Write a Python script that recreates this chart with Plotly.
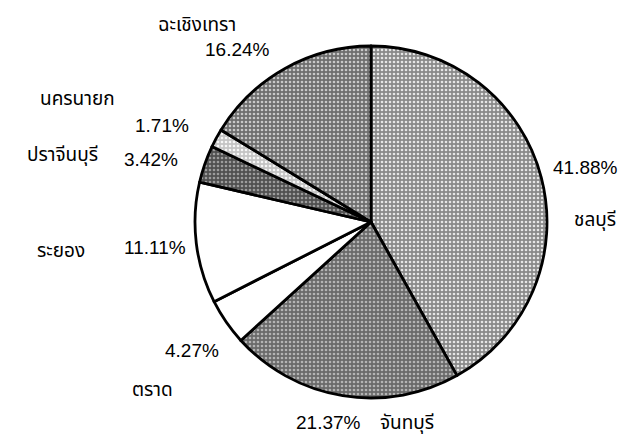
import plotly.graph_objects as go

provinces = ["ชลบุรี", "จันทบุรี", "ตราด", "ระยอง", "ปราจีนบุรี", "นครนายก", "ฉะเชิงเทรา"]
shares = [41.88, 21.37, 4.27, 11.11, 3.42, 1.71, 16.24]
pct_labels = ["41.88%", "21.37%", "4.27%", "11.11%", "3.42%", "1.71%", "16.24%"]

fill_bg = ["#8a8a8a", "#6a6a6a", "#ffffff", "#ffffff", "#505050", "#c4c4c4", "#6e6e6e"]
fill_fg = ["#e6e6e6", "#b4b4b4", "#ffffff", "#ffffff", "#9c9c9c", "#f6f6f6", "#c8c8c8"]
shapes_pat = [".", ".", "", "", ".", ".", "."]

W, H = 623, 446
cx, cy, r = 371, 222, 176

fig = go.Figure(go.Pie(
    labels=provinces,
    values=shares,
    sort=False,
    direction="clockwise",
    rotation=0,
    textinfo="none",
    hoverinfo="label+percent",
    marker=dict(
        colors=fill_bg,
        line=dict(color="#000000", width=2.8),
        pattern=dict(shape=shapes_pat, fgcolor=fill_fg, bgcolor=fill_bg, size=4, solidity=0.35),
    ),
    domain=dict(x=[(cx - r) / W, (cx + r) / W], y=[(H - cy - r) / H, (H - cy + r) / H]),
    showlegend=False,
))

thai_font = dict(family="Noto Sans Thai, Loma, Garuda, Tlwg Typo, sans-serif", size=19, color="#000000")
num_font = dict(family="Liberation Sans, Arial, sans-serif", size=19, color="#000000")

# label positions in pixels (x center, y center)
name_pos = [(595, 220), (407, 423), (152, 390), (61, 252), (62, 155), (77, 100), (197, 25)]
pct_pos = [(585, 167), (328, 422), (192, 350), (155, 247), (151, 160), (162, 125), (237, 50)]

annotations = []
for name, (x, y) in zip(provinces, name_pos):
    annotations.append(dict(text=name, x=x / W, y=1 - y / H, xref="paper", yref="paper",
                            showarrow=False, font=thai_font, xanchor="center", yanchor="middle"))
for p, (x, y) in zip(pct_labels, pct_pos):
    annotations.append(dict(text=p, x=x / W, y=1 - y / H, xref="paper", yref="paper",
                            showarrow=False, font=num_font, xanchor="center", yanchor="middle"))

fig.update_layout(
    width=W, height=H,
    margin=dict(l=0, r=0, t=0, b=0),
    paper_bgcolor="#ffffff",
    plot_bgcolor="#ffffff",
    annotations=annotations,
)

fig.write_html(
    "out.html",
    config={"displayModeBar": False},
    post_script="document.body.style.margin='0';document.body.style.overflow='hidden';",
)
